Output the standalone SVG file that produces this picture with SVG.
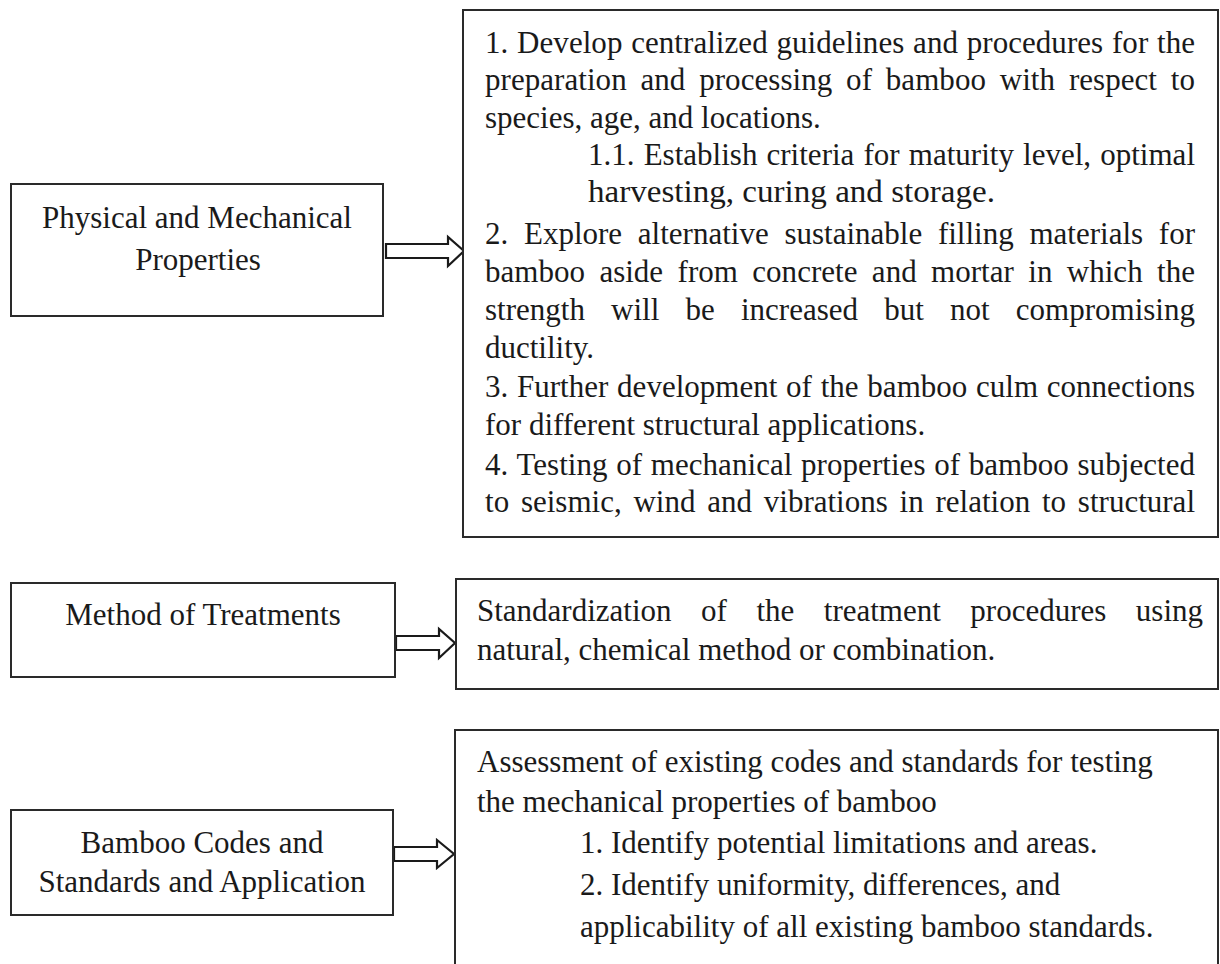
<svg xmlns="http://www.w3.org/2000/svg" width="1220" height="964" viewBox="0 0 1220 964">
<style>
.box{fill:#fff;stroke:#2a2a2a;stroke-width:2}
.arr{fill:#fff;stroke:#1a1a1a;stroke-width:2.2;stroke-linejoin:miter}
text{font-family:"Liberation Serif","Times New Roman",serif;font-size:31px;fill:#1a1a1a}
.c{text-anchor:middle}
</style>
<rect width="1220" height="964" fill="#fff"/>
<g id="connectors">
<polygon class="arr" points="386,244 448,244 448,237 464,251 448,266 448,258 386,258"/>
<polygon class="arr" points="396,636 439,636 439,629 455,643 439,658 439,650 396,650"/>
<polygon class="arr" points="394,847 437,847 437,840 454,854 437,868 437,861 394,861"/>
</g>
<g id="n1">
<rect class="box" x="11" y="184" width="372" height="132"/>
<text class="c" x="197" y="228">Physical and Mechanical</text>
<text class="c" x="198" y="270">Properties</text>
</g>
<g id="n2">
<rect class="box" x="463" y="10" width="755" height="527"/>
<text x="485" y="53" word-spacing="1" textLength="710" lengthAdjust="spacing">1. Develop centralized guidelines and procedures for the</text>
<text x="485" y="90" word-spacing="6" textLength="710" lengthAdjust="spacing">preparation and processing of bamboo with respect to</text>
<text x="485" y="128">species, age, and locations.</text>
<text x="588" y="165" word-spacing="1.4" textLength="607" lengthAdjust="spacing">1.1. Establish criteria for maturity level, optimal</text>
<text x="588" y="202" textLength="407" lengthAdjust="spacingAndGlyphs">harvesting, curing and storage.</text>
<text x="485" y="244" word-spacing="8" textLength="710" lengthAdjust="spacing">2. Explore alternative sustainable filling materials for</text>
<text x="485" y="282" word-spacing="6.7" textLength="710" lengthAdjust="spacing">bamboo aside from concrete and mortar in which the</text>
<text x="485" y="320" word-spacing="18.4" textLength="710" lengthAdjust="spacing">strength will be increased but not compromising</text>
<text x="485" y="358">ductility.</text>
<text x="485" y="397" word-spacing="1" textLength="710" lengthAdjust="spacing">3. Further development of the bamboo culm connections</text>
<text x="485" y="435">for different structural applications.</text>
<text x="485" y="475" word-spacing="0.8" textLength="710" lengthAdjust="spacing">4. Testing of mechanical properties of bamboo subjected</text>
<text x="485" y="512" word-spacing="4" textLength="710" lengthAdjust="spacing">to seismic, wind and vibrations in relation to structural</text>
</g>
<g id="n3">
<rect class="box" x="11" y="583" width="384" height="94"/>
<text class="c" x="203" y="625">Method of Treatments</text>
</g>
<g id="n4">
<rect class="box" x="456" y="579" width="762" height="110"/>
<text x="477" y="621" word-spacing="21.8" textLength="726" lengthAdjust="spacing">Standardization of the treatment procedures using</text>
<text x="477" y="660">natural, chemical method or combination.</text>
</g>
<g id="n5">
<rect class="box" x="11" y="810" width="382" height="105"/>
<text class="c" x="202" y="853">Bamboo Codes and</text>
<text class="c" x="202" y="892">Standards and Application</text>
</g>
<g id="n6">
<rect class="box" x="455" y="730" width="763" height="260"/>
<text x="477" y="772">Assessment of existing codes and standards for testing</text>
<text x="477" y="812">the mechanical properties of bamboo</text>
<text x="580" y="853">1. Identify potential limitations and areas.</text>
<text x="580" y="895">2. Identify uniformity, differences, and</text>
<text x="580" y="937">applicability of all existing bamboo standards.</text>
</g>
</svg>
